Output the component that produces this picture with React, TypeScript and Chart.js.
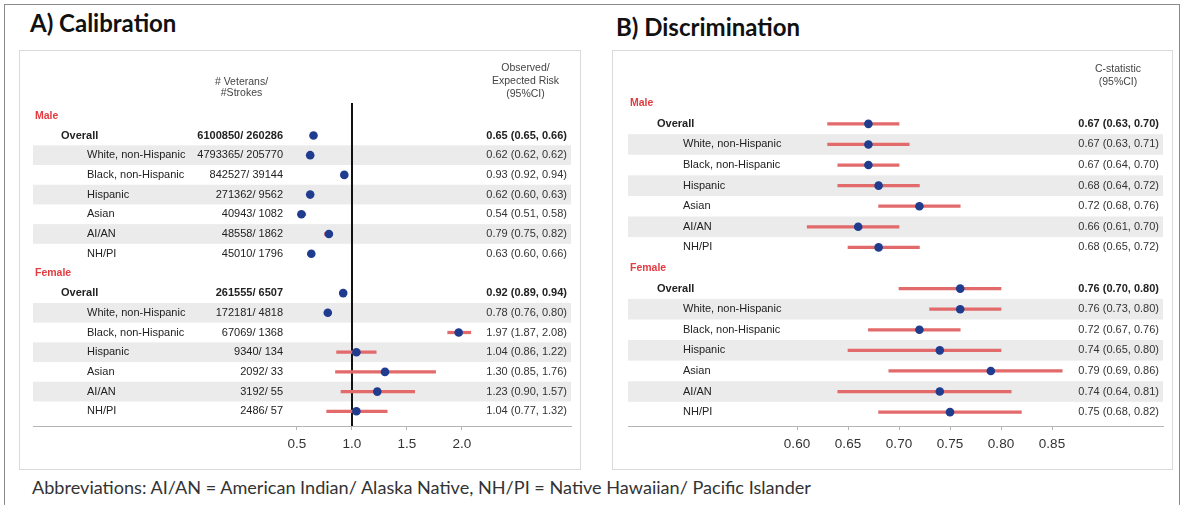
import React, { useEffect, useRef } from 'react';
import { Chart, registerables } from 'chart.js';

Chart.register(...registerables);

// ---------------- data ----------------
const sexes = ['Male', 'Female'];
const subgroups = ['Overall', 'White, non-Hispanic', 'Black, non-Hispanic', 'Hispanic', 'Asian', 'AI/AN', 'NH/PI'];

const veteransMale = [6100850, 4793365, 842527, 271362, 40943, 48558, 45010];
const strokesMale = [260286, 205770, 39144, 9562, 1082, 1862, 1796];
const veteransFemale = [261555, 172181, 67069, 9340, 2092, 3192, 2486];
const strokesFemale = [6507, 4818, 1368, 134, 33, 55, 57];

const oeMale = [0.65, 0.62, 0.93, 0.62, 0.54, 0.79, 0.63];
const oeLowMale = [0.65, 0.62, 0.92, 0.60, 0.51, 0.75, 0.60];
const oeHighMale = [0.66, 0.62, 0.94, 0.63, 0.58, 0.82, 0.66];
const oeFemale = [0.92, 0.78, 1.97, 1.04, 1.30, 1.23, 1.04];
const oeLowFemale = [0.89, 0.76, 1.87, 0.86, 0.85, 0.90, 0.77];
const oeHighFemale = [0.94, 0.80, 2.08, 1.22, 1.76, 1.57, 1.32];

const cMale = [0.67, 0.67, 0.67, 0.68, 0.72, 0.66, 0.68];
const cLowMale = [0.63, 0.63, 0.64, 0.64, 0.68, 0.61, 0.65];
const cHighMale = [0.70, 0.71, 0.70, 0.72, 0.76, 0.70, 0.72];
const cFemale = [0.76, 0.76, 0.72, 0.74, 0.79, 0.74, 0.75];
const cLowFemale = [0.70, 0.73, 0.67, 0.65, 0.69, 0.64, 0.68];
const cHighFemale = [0.80, 0.80, 0.76, 0.80, 0.86, 0.81, 0.82];

const calibrationTicks = [0.5, 1.0, 1.5, 2.0];
const discriminationTicks = [0.60, 0.65, 0.70, 0.75, 0.80, 0.85];

const titleA = 'A) Calibration';
const titleB = 'B) Discrimination';
const footnote = 'Abbreviations: AI/AN = American Indian/ Alaska Native, NH/PI = Native Hawaiian/ Pacific Islander';
const headerCounts = ['# Veterans/', '#Strokes'];
const headerOE = ['Observed/', 'Expected Risk', '(95%CI)'];
const headerC = ['C-statistic', '(95%CI)'];

// ---------------- styling ----------------
const FAM = '"Liberation Sans", Arial, sans-serif';
const DOT = '#1f3c8f';
const CI = '#e26a6a';
const BAND = '#ebebeb';
const RED = '#e23b40';
const AXIS = '#b4b4b4';

type Row = {
  idx: number;
  kind: 'group' | 'item';
  label: string;
  sub: number;
  est?: number;
  lo?: number;
  hi?: number;
  count?: string;
};

function buildRows(est: number[][], lo: number[][], hi: number[][], vets?: number[][], strokes?: number[][]): Row[] {
  const rows: Row[] = [];
  sexes.forEach((s, g) => {
    rows.push({ idx: rows.length, kind: 'group', label: s, sub: -1 });
    subgroups.forEach((lab, j) => {
      rows.push({
        idx: rows.length,
        kind: 'item',
        label: lab,
        sub: j,
        est: est[g][j],
        lo: lo[g][j],
        hi: hi[g][j],
        count: vets && strokes ? `${vets[g][j]}/ ${strokes[g][j]}` : undefined,
      });
    });
  });
  return rows;
}

interface Header { x: number; lines: string[]; ys: number[] }
interface Spec {
  rows: Row[];
  xMin: number; xMax: number; yMin: number; yMax: number;
  ticks: number[]; dec: number; refLine?: number;
  pad: { left: number; right: number; top: number; bottom: number };
  cols: { group: number; overall: number; sub: number; count?: number; value: number };
  headers: Header[];
}

const fmt = (r: Row) => `${r.est!.toFixed(2)} (${r.lo!.toFixed(2)}, ${r.hi!.toFixed(2)})`;

function tablePlugin(spec: Spec) {
  return {
    id: 'forestTable',
    beforeDatasetsDraw(chart: any) {
      const { ctx, chartArea: ca, scales } = chart;
      const ys = scales.y, xs = scales.x;
      ctx.save();
      ctx.fillStyle = BAND;
      spec.rows.forEach((r) => {
        if (r.kind === 'item' && r.sub % 2 === 1) {
          const a = ys.getPixelForValue(r.idx - 0.5);
          const b = ys.getPixelForValue(r.idx + 0.5);
          ctx.fillRect(ca.left, Math.min(a, b), ca.right - ca.left, Math.abs(b - a));
        }
      });
      if (spec.refLine !== undefined) {
        const x = xs.getPixelForValue(spec.refLine);
        ctx.strokeStyle = '#111';
        ctx.lineWidth = 2;
        ctx.beginPath();
        ctx.moveTo(x, ca.top);
        ctx.lineTo(x, ca.bottom);
        ctx.stroke();
      }
      ctx.restore();
    },
    afterDraw(chart: any) {
      const { ctx, scales } = chart;
      const ys = scales.y;
      const c = spec.cols;
      ctx.save();
      ctx.textBaseline = 'middle';
      spec.rows.forEach((r) => {
        const y = ys.getPixelForValue(r.idx);
        if (r.kind === 'group') {
          ctx.font = `bold 10.5px ${FAM}`;
          ctx.fillStyle = RED;
          ctx.textAlign = 'left';
          ctx.fillText(r.label, c.group, y);
          return;
        }
        const bold = r.sub === 0;
        ctx.font = `${bold ? 'bold ' : ''}11px ${FAM}`;
        ctx.fillStyle = '#222';
        ctx.textAlign = 'left';
        ctx.fillText(r.label, bold ? c.overall : c.sub, y);
        ctx.textAlign = 'right';
        if (r.count && c.count !== undefined) ctx.fillText(r.count, c.count, y);
        ctx.fillStyle = bold ? '#222' : '#333';
        ctx.fillText(fmt(r), c.value, y);
      });
      ctx.font = `10.5px ${FAM}`;
      ctx.fillStyle = '#444';
      ctx.textAlign = 'center';
      spec.headers.forEach((h) => {
        h.lines.forEach((t, i) => ctx.fillText(t, h.x, h.ys[i]));
      });
      ctx.restore();
    },
  };
}

function buildConfig(spec: Spec): any {
  const items = spec.rows.filter((r) => r.kind === 'item');
  return {
    type: 'bar',
    data: {
      datasets: [
        {
          type: 'scatter',
          label: 'Estimate',
          indexAxis: 'x',
          data: items.map((r) => ({ x: r.est, y: r.idx })),
          pointRadius: 4.3,
          pointHoverRadius: 4.3,
          backgroundColor: DOT,
          borderWidth: 0,
          order: 0,
        },
        {
          type: 'bar',
          label: '95% CI',
          indexAxis: 'y',
          data: items.map((r) => ({ y: r.idx, x: [r.lo, r.hi] })),
          backgroundColor: CI,
          borderWidth: 0,
          barThickness: 2.6,
          order: 1,
        },
      ],
    },
    options: {
      indexAxis: 'y',
      responsive: false,
      animation: false,
      events: [],
      layout: { padding: spec.pad },
      plugins: { legend: { display: false }, tooltip: { enabled: false } },
      scales: {
        x: {
          type: 'linear',
          position: 'bottom',
          min: spec.xMin,
          max: spec.xMax,
          offset: false,
          beginAtZero: false,
          afterBuildTicks: (axis: any) => {
            axis.ticks = spec.ticks.map((v) => ({ value: v }));
          },
          ticks: {
            autoSkip: false,
            maxRotation: 0,
            padding: 6,
            color: '#333',
            font: { family: FAM, size: 13.5 },
            callback: (v: any) => Number(v).toFixed(spec.dec),
          },
          grid: { display: true, drawOnChartArea: false, drawTicks: true, tickLength: 4, color: AXIS },
          border: { display: true, color: AXIS, width: 1 },
        },
        y: {
          type: 'linear',
          min: spec.yMin,
          max: spec.yMax,
          reverse: true,
          display: false,
          offset: false,
          grid: { display: false },
        },
      },
    },
    plugins: [tablePlugin(spec)],
  };
}

const specA: Spec = {
  rows: buildRows(
    [oeMale, oeFemale],
    [oeLowMale, oeLowFemale],
    [oeHighMale, oeHighFemale],
    [veteransMale, veteransFemale],
    [strokesMale, strokesFemale]
  ),
  xMin: -1.9,
  xMax: 2.991,
  yMin: -0.648,
  yMax: 15.745,
  ticks: calibrationTicks,
  dec: 1,
  refLine: 1.0,
  pad: { left: 14, right: 10, top: 53, bottom: 11.8 },
  cols: { group: 16, overall: 42, sub: 68, count: 264, value: 548 },
  headers: [
    { x: 222.5, lines: headerCounts, ys: [31.7, 43.5] },
    { x: 506.5, lines: headerOE, ys: [18.5, 31.5, 44.3] },
  ],
};

const specB: Spec = {
  rows: buildRows([cMale, cFemale], [cLowMale, cLowFemale], [cHighMale, cHighFemale]),
  xMin: 0.43431,
  xMax: 0.95882,
  yMin: -0.644,
  yMax: 15.673,
  ticks: discriminationTicks,
  dec: 2,
  pad: { left: 16, right: 10, top: 40, bottom: 11.8 },
  cols: { group: 18, overall: 45, sub: 71, value: 547 },
  headers: [{ x: 506, lines: headerC, ys: [19, 32.5] }],
};

function ForestPanel({ spec, left, top, width, height }: { spec: Spec; left: number; top: number; width: number; height: number }) {
  const ref = useRef<HTMLCanvasElement>(null);
  useEffect(() => {
    const chart = new Chart(ref.current as HTMLCanvasElement, buildConfig(spec));
    return () => chart.destroy();
  }, [spec]);
  return (
    <canvas
      ref={ref}
      width={width}
      height={height}
      style={{ position: 'absolute', left, top, width, height, display: 'block' }}
    />
  );
}

export default function App() {
  const box = (left: number, top: number, width: number, height: number): React.CSSProperties => ({
    position: 'absolute', left, top, width, height, border: '1px solid #dadada', boxSizing: 'border-box',
  });
  const title: React.CSSProperties = {
    position: 'absolute', fontFamily: 'Lato, "Open Sans", sans-serif', fontWeight: 700, fontSize: 24,
    lineHeight: '24px', color: '#111', whiteSpace: 'nowrap',
  };
  return (
    <div style={{ position: 'absolute', left: 0, top: 0, width: 1184, height: 505, overflow: 'hidden', background: '#fff' }}>
      <div style={{ position: 'absolute', left: 4, top: 4, width: 1176, height: 520, border: '1.5px solid #8a8a8a', boxSizing: 'border-box' }} />
      <div style={{ ...title, left: 30, top: 10.7 }}>{titleA}</div>
      <div style={{ ...title, left: 616, top: 14.7 }}>{titleB}</div>
      <div style={box(19, 50, 562, 420)} />
      <div style={box(612, 50, 561, 420)} />
      <ForestPanel spec={specA} left={19} top={50} width={562} height={420} />
      <ForestPanel spec={specB} left={612} top={50} width={561} height={420} />
      <div
        style={{
          position: 'absolute', left: 32, top: 478, fontFamily: 'Lato, "Open Sans", sans-serif', fontSize: 18.1,
          lineHeight: '18px', color: '#333', whiteSpace: 'nowrap',
        }}
      >
        {footnote}
      </div>
    </div>
  );
}
